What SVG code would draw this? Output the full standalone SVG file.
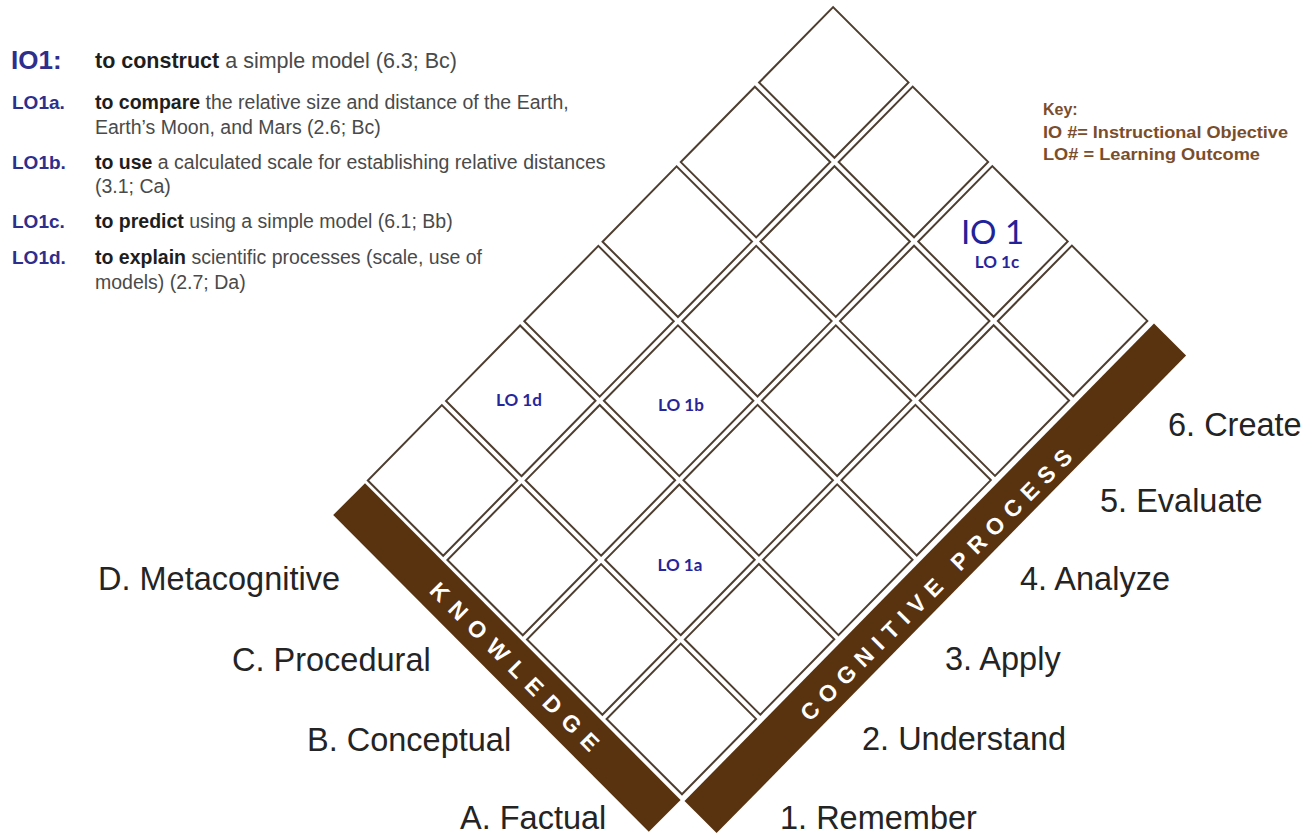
<svg xmlns="http://www.w3.org/2000/svg" xmlns:xlink="http://www.w3.org/1999/xlink" width="1308" height="836" viewBox="0 0 1308 836">
<style>
.cell{fill:#ffffff;stroke:#4e3e30;stroke-width:2;stroke-linejoin:miter}
.bar{fill:#593310}
.bartxt{font-family:"Liberation Sans",Arial,sans-serif;font-weight:bold;font-size:23px;fill:#ffffff}
.axis{font-family:"Liberation Sans",Arial,sans-serif;font-size:32.5px;fill:#242424}
.lbl{font-family:Lato,"Open Sans",sans-serif;font-weight:bold;font-size:17px;fill:#26269a;text-anchor:middle}
.io{font-family:Lato,"Open Sans",sans-serif;font-size:33px;fill:#22229a;text-anchor:middle}
.obj{font-family:"Liberation Sans",Arial,sans-serif;font-weight:bold;fill:#2e2e8c}
.txt{font-family:"Liberation Sans",Arial,sans-serif;fill:#4a4a4a}
.b{font-weight:bold;fill:#1e1e1e}
.key{font-family:"Liberation Sans",Arial,sans-serif;font-weight:bold;font-size:16px;fill:#7a4e2c}
</style>
<defs>
<path id="cellshape" class="cell" d="M0,-4.2 L74.05,-79.6 L-1.35,-154.9 L-75.4,-79.5 Z"/>
</defs>
<rect width="1308" height="836" fill="#ffffff"/>

<g id="grid">
<g id="cell-A1"><use xlink:href="#cellshape" x="682" y="798.5"/></g>
<g id="cell-A2"><use xlink:href="#cellshape" x="760.25" y="718.9"/></g>
<g id="cell-A3"><use xlink:href="#cellshape" x="838.5" y="639.3"/></g>
<g id="cell-A4"><use xlink:href="#cellshape" x="916.75" y="559.7"/></g>
<g id="cell-A5"><use xlink:href="#cellshape" x="995" y="480.1"/></g>
<g id="cell-A6"><use xlink:href="#cellshape" x="1073.25" y="400.5"/></g>
<g id="cell-B1"><use xlink:href="#cellshape" x="602.4" y="719"/></g>
<g id="cell-B2"><use xlink:href="#cellshape" x="680.65" y="639.4"/></g>
<g id="cell-B3"><use xlink:href="#cellshape" x="758.9" y="559.8"/></g>
<g id="cell-B4"><use xlink:href="#cellshape" x="837.15" y="480.2"/></g>
<g id="cell-B5"><use xlink:href="#cellshape" x="915.4" y="400.6"/></g>
<g id="cell-B6"><use xlink:href="#cellshape" x="993.65" y="321"/></g>
<g id="cell-C1"><use xlink:href="#cellshape" x="522.8" y="639.5"/></g>
<g id="cell-C2"><use xlink:href="#cellshape" x="601.05" y="559.9"/></g>
<g id="cell-C3"><use xlink:href="#cellshape" x="679.3" y="480.3"/></g>
<g id="cell-C4"><use xlink:href="#cellshape" x="757.55" y="400.7"/></g>
<g id="cell-C5"><use xlink:href="#cellshape" x="835.8" y="321.1"/></g>
<g id="cell-C6"><use xlink:href="#cellshape" x="914.05" y="241.5"/></g>
<g id="cell-D1"><use xlink:href="#cellshape" x="443.2" y="560"/></g>
<g id="cell-D2"><use xlink:href="#cellshape" x="521.45" y="480.4"/></g>
<g id="cell-D3"><use xlink:href="#cellshape" x="599.7" y="400.8"/></g>
<g id="cell-D4"><use xlink:href="#cellshape" x="677.95" y="321.2"/></g>
<g id="cell-D5"><use xlink:href="#cellshape" x="756.2" y="241.6"/></g>
<g id="cell-D6"><use xlink:href="#cellshape" x="834.45" y="162"/></g>
</g>

<g id="cell-labels">
<text class="lbl" x="519" y="406">LO 1d</text>
<text class="lbl" x="681" y="411">LO 1b</text>
<text class="lbl" x="680" y="571">LO 1a</text>
<text class="io" x="992.5" y="244">IO 1</text>
<text class="lbl" x="997" y="268">LO 1c</text>
</g>

<g id="knowledge-bar">
<polygon class="bar" points="680.6,799.9 648.8,831.7 333.2,515 365,483.2"/>
<text class="bartxt" transform="translate(518,670) rotate(45)" text-anchor="middle" dominant-baseline="central" letter-spacing="9.5">KNOWLEDGE</text>
</g>
<g id="cognitive-bar">
<polygon class="bar" points="684.5,801 716.6,833.1 1186.1,355.5 1154,323.4"/>
<text class="bartxt" transform="translate(939,582) rotate(-45)" text-anchor="middle" dominant-baseline="central" letter-spacing="8">COGNITIVE PROCESS</text>
</g>

<g id="knowledge-labels">
<text class="axis" x="98" y="590">D. Metacognitive</text>
<text class="axis" x="232" y="671">C. Procedural</text>
<text class="axis" x="307" y="751">B. Conceptual</text>
<text class="axis" x="460" y="829">A. Factual</text>
</g>
<g id="process-labels">
<text class="axis" x="780" y="829">1. Remember</text>
<text class="axis" x="862" y="750">2. Understand</text>
<text class="axis" x="945" y="670">3. Apply</text>
<text class="axis" x="1020" y="590">4. Analyze</text>
<text class="axis" x="1100" y="512">5. Evaluate</text>
<text class="axis" x="1168" y="436">6. Create</text>
</g>

<g id="objectives">
<text class="obj" x="11" y="69" font-size="26">IO1:</text>
<text class="txt" x="95" y="68" font-size="21.5"><tspan class="b">to construct</tspan> a simple model (6.3; Bc)</text>
<text class="obj" x="12" y="109" font-size="19">LO1a.</text>
<text class="txt" x="95" y="109" font-size="19.5"><tspan class="b">to compare</tspan> the relative size and distance of the Earth,</text>
<text class="txt" x="95" y="134" font-size="19.5">Earth’s Moon, and Mars (2.6; Bc)</text>
<text class="obj" x="12" y="169" font-size="19">LO1b.</text>
<text class="txt" x="95" y="169" font-size="19.5"><tspan class="b">to use</tspan> a calculated scale for establishing relative distances</text>
<text class="txt" x="95" y="193" font-size="19.5">(3.1; Ca)</text>
<text class="obj" x="12" y="228" font-size="19">LO1c.</text>
<text class="txt" x="95" y="228" font-size="19.5"><tspan class="b">to predict</tspan> using a simple model (6.1; Bb)</text>
<text class="obj" x="12" y="264" font-size="19">LO1d.</text>
<text class="txt" x="95" y="264" font-size="19.5"><tspan class="b">to explain</tspan> scientific processes (scale, use of</text>
<text class="txt" x="95" y="289" font-size="19.5">models) (2.7; Da)</text>
</g>

<g id="key">
<text class="key" x="1043" y="115">Key:</text>
<text class="key" x="1043" y="138" textLength="245" lengthAdjust="spacingAndGlyphs">IO #= Instructional Objective</text>
<text class="key" x="1043" y="160" textLength="217" lengthAdjust="spacingAndGlyphs">LO# = Learning Outcome</text>
</g>
</svg>
